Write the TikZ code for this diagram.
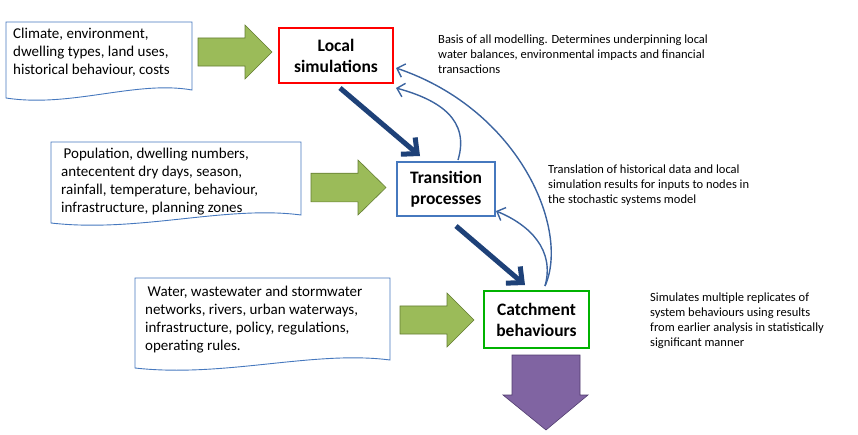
\documentclass[tikz,border=0pt]{standalone}
\usepackage{fontspec}
\setmainfont{Carlito}
\usetikzlibrary{arrows.meta}
\definecolor{docb}{RGB}{70,120,190}
\definecolor{garr}{RGB}{155,187,89}
\definecolor{garrd}{RGB}{100,125,50}
\definecolor{darkb}{RGB}{30,65,120}
\definecolor{thinb}{RGB}{60,100,160}
\definecolor{purp}{RGB}{128,100,162}
\definecolor{purpd}{RGB}{80,60,110}
\tikzset{
 doctext/.style={anchor=north west,align=left,font=\fontsize{15}{18}\selectfont,inner sep=0pt},
 boxn/.style={draw,line width=1.3pt,fill=white,align=center,font=\bfseries\fontsize{17.5}{21}\selectfont,inner sep=0pt},
 note/.style={anchor=north west,align=left,font=\fontsize{12.5}{15}\selectfont,inner sep=0pt},
 docshape/.style={draw=docb,line width=0.9pt,fill=white},
 garrow/.style={fill=garr,draw=garrd,line width=0.6pt},
 thick/.style={draw=darkb,line width=5pt,-{Straight Barb[length=12pt,width=22pt,line width=5pt]}},
 thin/.style={draw=thinb,line width=1.4pt,-{Straight Barb[length=7pt,width=14pt,line width=1.4pt]}}
}
\newcommand{\docshp}[4]{% x1 y1 x2 y2
 \draw[docshape] (#1,#2) -- (#3,#2) -- (#3,#4-8) .. controls ({#3-(#3-#1)*0.3},#4-18) and ({#1+(#3-#1)*0.35},#4+10) .. (#1,#4) -- cycle;}
\newcommand{\garrowshp}[5]{% x1 xh x2 ytop ybot
 \draw[garrow] (#1,{#4+(#5-#4)*0.24}) -- (#2,{#4+(#5-#4)*0.24}) -- (#2,#4) -- (#3,{(#4+#5)/2}) -- (#2,#5) -- (#2,{#5-(#5-#4)*0.24}) -- (#1,{#5-(#5-#4)*0.24}) -- cycle;}
\begin{document}
\begin{tikzpicture}[x=1pt,y=-1pt]
\useasboundingbox (0,0) rectangle (858,434);
\docshp{6}{22}{192}{98}
\node[doctext] (d1) at (13,28) {Climate, environment,\\dwelling types, land uses,\\historical behaviour, costs};
\docshp{51}{142}{301}{223}
\node[doctext] (d2) at (61,148) {\,Population, dwelling numbers,\\antecentent dry days, season,\\rainfall, temperature, behaviour,\\infrastructure, planning zones};
\docshp{135}{278}{390}{368}
\node[doctext] (d3) at (145,286) {\,Water, wastewater and stormwater\\networks, rivers, urban waterways,\\infrastructure, policy, regulations,\\operating rules.};
\garrowshp{198}{245}{272}{25}{79}
\garrowshp{311}{358}{386}{160}{215}
\garrowshp{400}{447}{474}{293}{347}
\draw[fill=purp,draw=purpd,line width=0.6pt] (512,355) -- (580,355) -- (580,395) -- (588,395) -- (546,430) -- (503,395) -- (512,395) -- cycle;
\node[boxn,draw=red,minimum width=114pt,minimum height=55pt] (ls) at (336,55.5) {Local\\simulations};
\node[boxn,draw=docb,minimum width=98pt,minimum height=54pt] (tp) at (446,189) {Transition\\processes};
\node[boxn,draw=green!70!black,minimum width=105pt,minimum height=57pt] (cb) at (536.5,319.5) {Catchment\\behaviours};
\draw[thick] (340,88) -- (420,156);
\draw[thick] (456,226) -- (525,285);
\draw[thin] (458,160) .. controls (470,120) and (440,100) .. (396,88);
\draw[thin] (545,286) .. controls (570,230) and (520,110) .. (396,68);
\draw[thin] (545,286) .. controls (555,250) and (530,225) .. (496,211);
\node[note] (n1) at (438,35) {Basis of all modelling. Determines underpinning local\\water balances, environmental impacts and financial\\transactions};
\node[note] (n2) at (548,165) {Translation of historical data and local\\simulation results for inputs to nodes in\\the stochastic systems model};
\node[note] (n3) at (650,293) {Simulates multiple replicates of\\system behaviours using results\\from earlier analysis in statistically\\significant manner};
\end{tikzpicture}
\end{document}
